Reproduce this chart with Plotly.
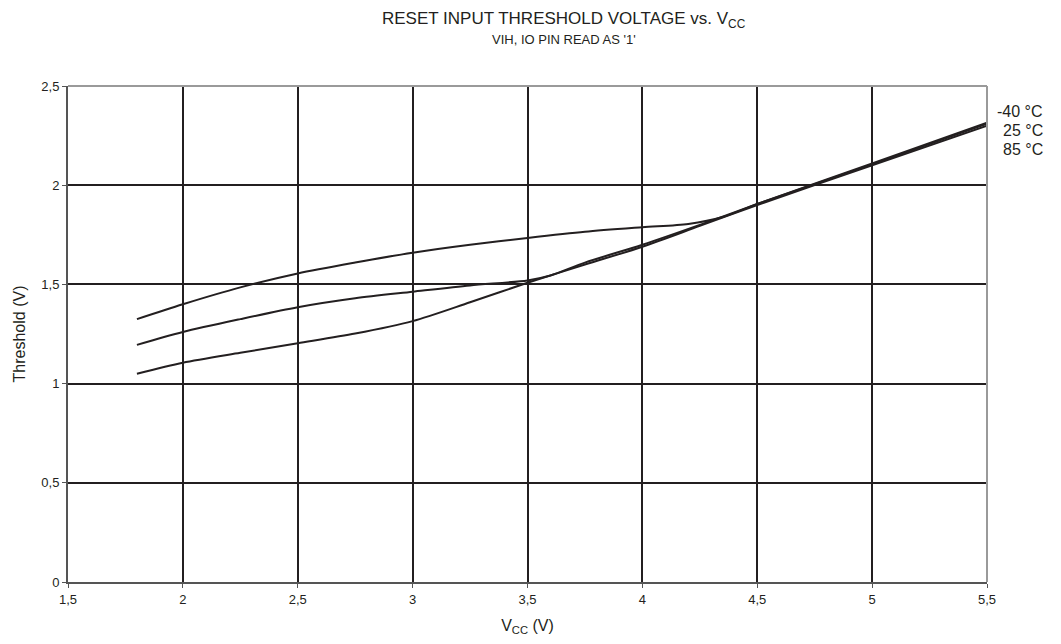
import plotly.graph_objects as go

# data
vcc_m40 = [1.8, 2.0, 2.25, 2.5, 2.75, 3.0, 3.25, 3.5, 3.75, 4.0, 4.2, 4.35, 4.5, 5.0, 5.5]
vih_m40 = [1.325, 1.40, 1.485, 1.555, 1.61, 1.66, 1.70, 1.734, 1.765, 1.788, 1.805, 1.84, 1.905, 2.11, 2.315]

vcc_25 = [1.8, 2.0, 2.25, 2.5, 2.75, 3.0, 3.25, 3.5, 3.6, 3.75, 4.0, 4.25, 4.5, 5.0, 5.5]
vih_25 = [1.195, 1.26, 1.325, 1.385, 1.43, 1.463, 1.495, 1.52, 1.545, 1.61, 1.70, 1.80, 1.905, 2.105, 2.31]

vcc_85 = [1.8, 2.0, 2.25, 2.5, 2.75, 3.0, 3.25, 3.5, 3.75, 4.0, 4.25, 4.5, 5.0, 5.5]
vih_85 = [1.05, 1.105, 1.155, 1.203, 1.252, 1.315, 1.41, 1.508, 1.60, 1.69, 1.795, 1.90, 2.10, 2.30]

labels = ['-40 °C', '25 °C', '85 °C']
x_ticks = [1.5, 2, 2.5, 3, 3.5, 4, 4.5, 5, 5.5]
y_ticks = [0, 0.5, 1, 1.5, 2, 2.5]

ink = '#231f20'
font_family = 'Liberation Sans, Arial'
fig = go.Figure()

for xs, ys, name in [(vcc_m40, vih_m40, labels[0]), (vcc_25, vih_25, labels[1]), (vcc_85, vih_85, labels[2])]:
    fig.add_trace(go.Scatter(
        x=xs, y=ys, name=name, mode='lines',
        line=dict(color=ink, width=2, shape='spline', smoothing=0.8),
        showlegend=False
    ))

# temperature labels to the right of the plot
for i, lab in enumerate(labels):
    fig.add_annotation(
        x=1.0, xref='paper', xanchor='right', xshift=58,
        y=1.0, yref='paper', yanchor='middle', yshift=-25 - i * 19,
        text=lab, showarrow=False,
        font=dict(size=16, color=ink, family=font_family)
    )

fig.add_annotation(
    x=0.54, xref='paper', y=1.0, yref='paper', yshift=66, xanchor='center', yanchor='middle',
    text='RESET INPUT THRESHOLD VOLTAGE vs. V<sub>CC</sub>', showarrow=False,
    font=dict(size=17, color=ink, family=font_family)
)
fig.add_annotation(
    x=0.54, xref='paper', y=1.0, yref='paper', yshift=47, xanchor='center', yanchor='middle',
    text="VIH, IO PIN READ AS '1'", showarrow=False,
    font=dict(size=13, color=ink, family=font_family)
)

# light top/right frame
fig.add_shape(type='line', xref='paper', yref='paper', x0=0, x1=1, y0=1, y1=1,
              line=dict(color='#9a9a9a', width=2))
fig.add_shape(type='line', xref='paper', yref='paper', x0=1, x1=1, y0=0, y1=1,
              line=dict(color='#9a9a9a', width=2))

fig.update_layout(
    width=1045, height=628,
    margin=dict(l=60, r=66, t=78, b=54),
    paper_bgcolor='white', plot_bgcolor='white',
    separators=', ',
    font=dict(family=font_family, color=ink, size=13),
    xaxis=dict(
        range=[1.5, 5.5], tickvals=x_ticks, tickformat='.1~f',
        showgrid=True, gridcolor=ink, gridwidth=2,
        showline=True, linecolor='#555555', linewidth=2,
        ticks='outside', ticklen=4, tickcolor='#555555',
        zeroline=False, automargin=False,
        title=dict(text='V<sub>CC</sub> (V)', font=dict(size=16), standoff=16)
    ),
    yaxis=dict(
        range=[0, 2.5], tickvals=y_ticks, tickformat='.1~f',
        showgrid=True, gridcolor=ink, gridwidth=2,
        showline=True, linecolor='#555555', linewidth=2,
        ticks='outside', ticklen=4, tickcolor='#555555',
        zeroline=False, automargin=False,
        title=dict(text='Threshold (V)', font=dict(size=16), standoff=12)
    ),
)

fig.write_html("out.html")
